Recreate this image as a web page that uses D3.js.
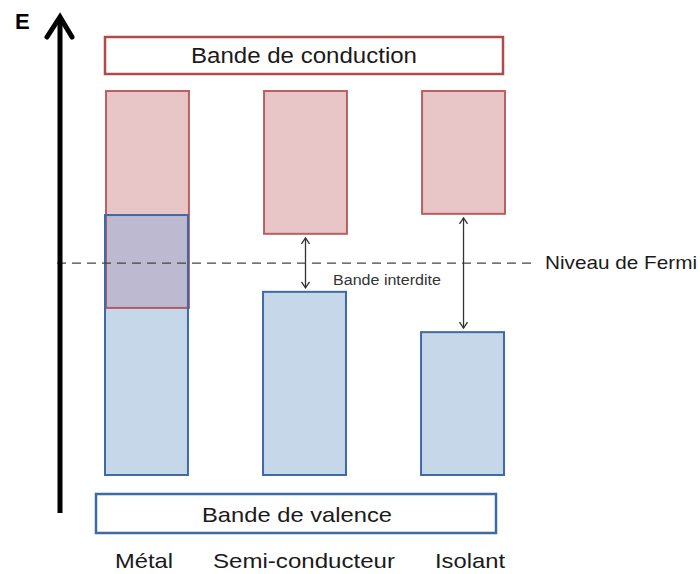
<!DOCTYPE html>
<html><head><meta charset="utf-8">
<script src="https://cdn.jsdelivr.net/npm/d3@7"></script>
<style>body{margin:0;background:#fff}svg{display:block}text{font-family:"Liberation Sans",Arial,sans-serif}</style>
</head><body>
<script>
// Data (energy in arbitrary units: 0 = bottom of diagram, 10 = top)
const categories = ["Métal", "Semi-conducteur", "Isolant"];
const conductionBottom = [4.35, 6.28, 6.80];   // bottom edge of conduction band
const conductionTop = [10, 10, 10];
const valenceTop = [6.77, 4.77, 3.72];         // top edge of valence band
const valenceBottom = [0, 0, 0];
const fermiLevel = 5.52;
const gapArrows = ["Semi-conducteur", "Isolant"];

const W = 700, H = 574;
const svg = d3.select("body").append("svg").attr("width", W).attr("height", H);

const x = d3.scaleBand().domain(categories).range([105, 504]).paddingInner(0.475).paddingOuter(0);
const y = d3.scaleLinear().domain([0, 10]).range([475, 91]);

const pinkFill = "#e8c5c6", pinkStroke = "#b04a4b";
const blueFill = "#c7d7ea", blueStroke = "#3f6aa3";
const overlapFill = "#bcb9d1";

// Header/footer boxes
svg.append("rect").attr("x", 105).attr("y", 37).attr("width", 398).attr("height", 37)
  .attr("fill", "#fff").attr("stroke", pinkStroke).attr("stroke-width", 2.5);
svg.append("text").attr("x", 304).attr("y", 63).attr("text-anchor", "middle")
  .attr("font-size", 22).attr("fill", "#1a1a1a")
  .attr("textLength", 226).attr("lengthAdjust", "spacingAndGlyphs").text("Bande de conduction");

svg.append("rect").attr("x", 96).attr("y", 494).attr("width", 400).attr("height", 39)
  .attr("fill", "#fff").attr("stroke", blueStroke).attr("stroke-width", 2.5);
svg.append("text").attr("x", 297).attr("y", 522).attr("text-anchor", "middle")
  .attr("font-size", 21).attr("fill", "#1a1a1a")
  .attr("textLength", 190).attr("lengthAdjust", "spacingAndGlyphs").text("Bande de valence");

const rows = categories.map((c, i) => ({
  c, cb: conductionBottom[i], ct: conductionTop[i], vt: valenceTop[i], vb: valenceBottom[i]
}));

// valence bands
svg.selectAll(".val").data(rows).enter().append("rect")
  .attr("x", d => x(d.c)).attr("width", x.bandwidth())
  .attr("y", d => y(d.vt)).attr("height", d => y(d.vb) - y(d.vt))
  .attr("fill", blueFill);
// conduction bands
svg.selectAll(".cond").data(rows).enter().append("rect")
  .attr("x", d => x(d.c) + 1).attr("width", x.bandwidth())
  .attr("y", d => y(d.ct)).attr("height", d => y(d.cb) - y(d.ct))
  .attr("fill", pinkFill);
// overlap
svg.selectAll(".ov").data(rows.filter(d => d.vt > d.cb)).enter().append("rect")
  .attr("x", d => x(d.c)).attr("width", x.bandwidth())
  .attr("y", d => y(d.vt)).attr("height", d => y(d.cb) - y(d.vt))
  .attr("fill", overlapFill);
// strokes
svg.selectAll(".condS").data(rows).enter().append("rect")
  .attr("x", d => x(d.c) + 1).attr("width", x.bandwidth())
  .attr("y", d => y(d.ct)).attr("height", d => y(d.cb) - y(d.ct))
  .attr("fill", "none").attr("stroke", pinkStroke).attr("stroke-width", 2).attr("stroke-opacity", 0.85);
svg.selectAll(".valS").data(rows).enter().append("rect")
  .attr("x", d => x(d.c)).attr("width", x.bandwidth())
  .attr("y", d => y(d.vt)).attr("height", d => y(d.vb) - y(d.vt))
  .attr("fill", "none").attr("stroke", blueStroke).attr("stroke-width", 2);

// Fermi level
svg.append("line").attr("x1", 57).attr("x2", 532).attr("y1", y(fermiLevel)).attr("y2", y(fermiLevel))
  .attr("stroke", "#444").attr("stroke-width", 1.3).attr("stroke-dasharray", "9,6");
svg.append("text").attr("x", 545).attr("y", 269).attr("font-size", 19).attr("fill", "#1a1a1a")
  .attr("textLength", 152).attr("lengthAdjust", "spacingAndGlyphs").text("Niveau  de Fermi");

// Gap arrows
const arrowColor = "#333";
gapArrows.forEach(c => {
  const r = rows.find(d => d.c === c);
  const cx = x(c) + x.bandwidth() / 2 + 1;
  const y1 = y(r.cb) + 4, y2 = y(r.vt) - 4;
  const g = svg.append("g").attr("stroke", arrowColor).attr("stroke-width", 1.3).attr("fill", "none");
  g.append("line").attr("x1", cx).attr("x2", cx).attr("y1", y1).attr("y2", y2);
  g.append("path").attr("d", `M${cx - 4},${y1 + 6}L${cx},${y1}L${cx + 4},${y1 + 6}`);
  g.append("path").attr("d", `M${cx - 4},${y2 - 6}L${cx},${y2}L${cx + 4},${y2 - 6}`);
});
svg.append("text").attr("x", 333).attr("y", 285).attr("font-size", 14).attr("fill", "#333")
  .attr("textLength", 108).attr("lengthAdjust", "spacingAndGlyphs").text("Bande interdite");

// Energy axis
svg.append("line").attr("x1", 60).attr("x2", 60).attr("y1", 513).attr("y2", 18)
  .attr("stroke", "#000").attr("stroke-width", 5);
svg.append("path").attr("d", "M47,37L60,17L72,37").attr("fill", "none")
  .attr("stroke", "#000").attr("stroke-width", 5).attr("stroke-linecap", "round").attr("stroke-linejoin", "miter");
svg.append("text").attr("x", 15).attr("y", 29).attr("font-size", 22).attr("font-weight", "bold")
  .attr("fill", "#000").text("E");

// Category labels
const labelW = {"Métal": 58, "Semi-conducteur": 182, "Isolant": 70};
const labelX = {"Métal": 144, "Semi-conducteur": 304, "Isolant": 470};
svg.selectAll(".cat").data(categories).enter().append("text")
  .attr("x", d => labelX[d]).attr("y", 568).attr("text-anchor", "middle")
  .attr("font-size", 21).attr("fill", "#1a1a1a")
  .attr("textLength", d => labelW[d]).attr("lengthAdjust", "spacingAndGlyphs")
  .text(d => d);
</script>
</body></html>
